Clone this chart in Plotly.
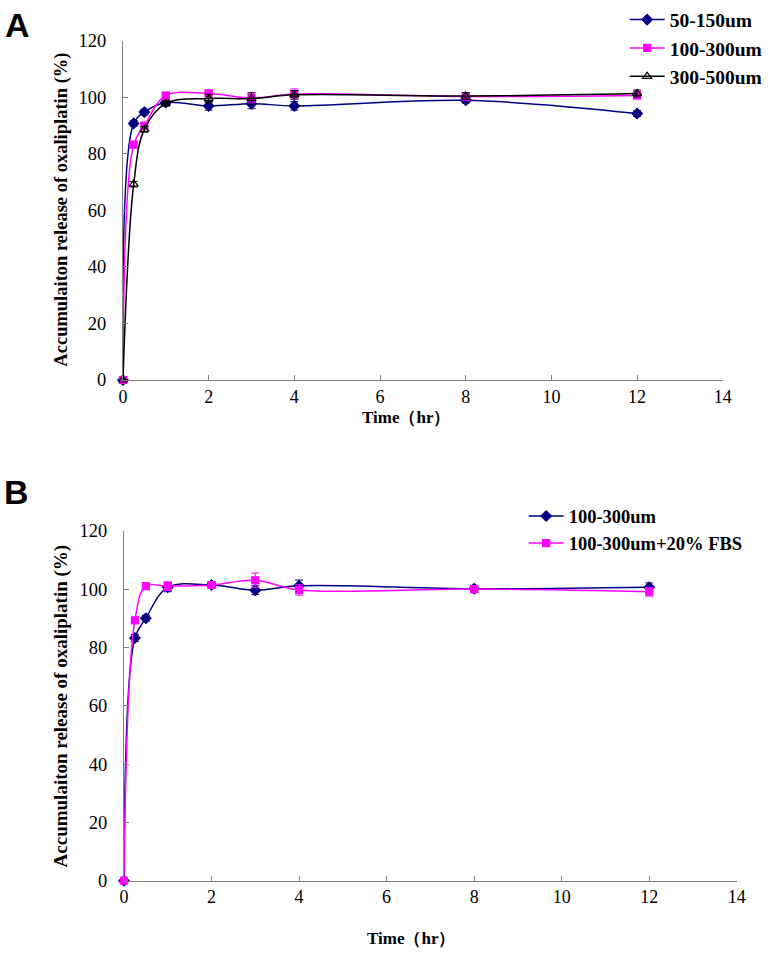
import plotly.graph_objects as go

W, H = 768, 954

time_pts = [0, 0.25, 0.5, 1, 2, 3, 4, 8, 12]

# Panel A
a_50_150 = [0, 90.8, 94.8, 98.2, 97.0, 97.8, 97.0, 99.0, 94.3]
a_50_150_err = [0, 1.0, 1.0, 1.0, 1.5, 1.8, 1.5, 1.0, 1.0]
a_100_300 = [0, 83.3, 90.0, 100.6, 101.4, 99.8, 101.2, 100.3, 100.7]
a_100_300_err = [0, 1.0, 1.0, 1.2, 1.0, 1.8, 1.8, 1.2, 1.2]
a_300_500 = [0, 69.3, 88.7, 97.9, 99.6, 99.6, 100.9, 100.5, 101.4]
a_300_500_err = [0, 1.0, 1.0, 1.0, 1.5, 2.0, 1.5, 1.2, 1.2]

# Panel B
b_100_300 = [0, 83.2, 90.0, 100.6, 101.4, 99.6, 101.1, 100.1, 100.6]
b_100_300_err = [0, 1.2, 1.0, 1.5, 1.0, 1.5, 2.0, 1.2, 1.5]
b_fbs = [0, 89.3, 101.0, 101.0, 101.4, 103.0, 99.7, 100.0, 99.1]
b_fbs_err = [0, 1.0, 1.0, 1.5, 1.0, 2.5, 1.8, 1.2, 1.5]

names_a = ["50-150um", "100-300um", "300-500um"]
names_b = ["100-300um", "100-300um+20% FBS"]

x_ticks = [0, 2, 4, 6, 8, 10, 12, 14]
y_ticks = [0, 20, 40, 60, 80, 100, 120]

NAVY = "#000080"
MAG = "#FF00FF"
BLK = "#000000"
SERIF = "Liberation Serif"


def fx(p):
    # target pixel (as photographed) -> paper fraction
    return ((p - 3.6) / 0.984) / W


def fy(p):
    return 1 - ((p - 7.9) / 0.981) / H


fig = go.Figure()


def add(x, y, err, name, color, symbol, size, xa, ya, legend, group):
    fig.add_trace(go.Scatter(
        x=x, y=y, name=name, mode="lines+markers",
        line=dict(color=color, width=1.5, shape="spline", smoothing=1.0),
        marker=dict(color=color, symbol=symbol, size=size,
                    line=dict(color=color, width=1.2)),
        error_y=dict(type="data", array=err, visible=True, color=color, thickness=1, width=4),
        xaxis=xa, yaxis=ya, legend=legend, legendgroup=group, cliponaxis=False,
    ))


add(time_pts, a_50_150, a_50_150_err, names_a[0], NAVY, "diamond", 8, "x", "y", "legend", "a1")
add(time_pts, a_100_300, a_100_300_err, names_a[1], MAG, "square", 7, "x", "y", "legend", "a2")
add(time_pts, a_300_500, a_300_500_err, names_a[2], BLK, "triangle-up-open", 8, "x", "y", "legend", "a3")
add(time_pts, b_100_300, b_100_300_err, names_b[0], NAVY, "diamond", 8, "x2", "y2", "legend2", "b1")
add(time_pts, b_fbs, b_fbs_err, names_b[1], MAG, "square", 7, "x2", "y2", "legend2", "b2")

fig.update_layout(
    width=W, height=H, margin=dict(l=0, r=0, t=0, b=0),
    paper_bgcolor="white", plot_bgcolor="white", showlegend=True,
    xaxis=dict(domain=[fx(123), fx(725)], range=[0, 14], tickvals=x_ticks, anchor="y"),
    yaxis=dict(domain=[fy(375), fy(33)], range=[0, 120], tickvals=y_ticks, anchor="x"),
    xaxis2=dict(domain=[fx(124), fx(739)], range=[0, 14], tickvals=x_ticks, anchor="y2"),
    yaxis2=dict(domain=[fy(880), fy(527)], range=[0, 120], tickvals=y_ticks, anchor="x2"),
    legend=dict(x=633 / W, y=1 + 16 / H, xanchor="left", yanchor="top", bgcolor="rgba(0,0,0,0)",
                font=dict(family=SERIF, size=19.5, color="black", weight="bold"),
                tracegroupgap=0, itemwidth=35),
    legend2=dict(x=530 / W, y=1 - 495 / H, xanchor="left", yanchor="top", bgcolor="rgba(0,0,0,0)",
                 font=dict(family=SERIF, size=18.5, color="black", weight="bold"),
                 tracegroupgap=0, itemwidth=35),
)
common = dict(showline=True, linecolor="#808080", linewidth=1, ticks="inside",
              ticklen=5, tickcolor="#808080", showgrid=False, zeroline=False)
fig.update_xaxes(ticklabelstandoff=0, tickfont=dict(family=SERIF, size=18, color="black"), **common)
fig.update_yaxes(ticklabelstandoff=12, tickfont=dict(family=SERIF, size=18.5, color="black"), **common)

ytitle = "Accumulaiton release of oxaliplatin (%)"
xtitle = "Time\uff08hr\uff09"
ann = [
    dict(text="A", x=fx(17), y=fy(17), font=dict(family="Liberation Sans", size=34, weight="bold")),
    dict(text="B", x=fx(16), y=fy(488), font=dict(family="Liberation Sans", size=34, weight="bold")),
    dict(text=ytitle, x=fx(61), y=fy(203), textangle=-90, font=dict(family=SERIF, size=18.5, weight="bold")),
    dict(text=ytitle, x=fx(61), y=fy(704), textangle=-90, font=dict(family=SERIF, size=19, weight="bold")),
    dict(text=xtitle, x=fx(407), y=fy(413), font=dict(family=SERIF, size=17, weight="bold")),
    dict(text=xtitle, x=fx(412), y=fy(938), font=dict(family=SERIF, size=17, weight="bold")),
]
for a in ann:
    a.update(xref="paper", yref="paper", showarrow=False, xanchor="center", yanchor="middle")
    a["font"].setdefault("color", "black")
fig.update_layout(annotations=ann)

post = "document.body.style.margin='0';document.body.style.padding='0';"
fig.write_html("out.html", config={"displayModeBar": False}, post_script=post)
